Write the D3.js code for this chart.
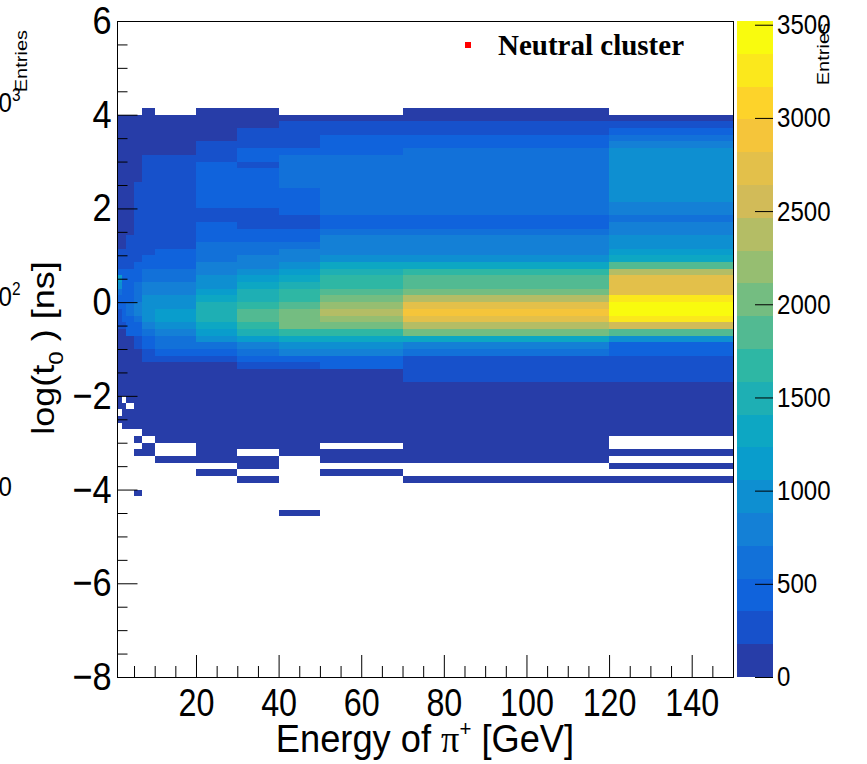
<!DOCTYPE html>
<html>
<head>
<meta charset="utf-8">
<script src="https://cdn.jsdelivr.net/npm/d3@7"></script>
<style>
  body { margin: 0; background: #fff; }
  svg { display: block; }
  text { fill: #000; }
</style>
</head>
<body>
<svg width="867" height="764" font-family="Liberation Sans, Arial, sans-serif"></svg>
<script>
// energy bin edges [GeV]
const energyEdges = [1, 2, 3, 5, 7, 10, 20, 30, 40, 50, 70, 120, 150];
// log(t0) bins are 1/7 wide, rows listed from the top edge downward
const tBinWidth = 1 / 7;
const tTopEdge = 29 / 7;

// entries per bin, one array per energy bin (61 rows each)
const e1to2 = [
  0, 80, 80, 80, 80, 80, 80, 80, 80, 80,
  80, 80, 80, 80, 80, 80, 80, 80, 80, 80,
  80, 260, 260, 260, 440, 1140, 970, 610, 440, 440,
  260, 260, 260, 80, 80, 80, 80, 80, 80, 80,
  80, 80, 80, 80, 80, 0, 80, 0, 0, 0,
  0, 0, 0, 0, 0, 0, 0, 0, 0, 0, 0];
const e2to3 = [
  0, 80, 80, 80, 80, 80, 80, 80, 80, 80,
  80, 80, 80, 80, 80, 80, 80, 80, 80, 80,
  80, 260, 260, 260, 440, 440, 440, 440, 440, 440,
  440, 440, 260, 80, 80, 80, 80, 80, 80, 80,
  80, 80, 80, 0, 80, 80, 80, 80, 0, 0,
  0, 0, 0, 0, 0, 0, 0, 0, 0, 0, 0];
const e3to5 = [
  0, 80, 80, 80, 80, 80, 80, 80, 80, 80,
  80, 80, 80, 80, 80, 80, 80, 80, 80, 260,
  260, 260, 260, 260, 440, 440, 440, 440, 440, 610,
  610, 440, 440, 440, 80, 80, 80, 80, 80, 80,
  80, 80, 80, 80, 0, 80, 80, 80, 0, 0,
  0, 0, 0, 0, 0, 0, 0, 0, 0, 0, 0];
const e5to7 = [
  0, 80, 80, 80, 80, 80, 80, 80, 80, 80,
  80, 260, 260, 260, 260, 260, 260, 260, 260, 260,
  260, 260, 260, 440, 440, 440, 610, 610, 610, 790,
  790, 610, 440, 440, 260, 260, 80, 80, 80, 80,
  80, 80, 80, 80, 80, 80, 80, 80, 0, 80,
  0, 80, 0, 0, 0, 0, 0, 80, 0, 0, 0];
const e7to10 = [
  80, 80, 80, 80, 80, 80, 80, 260, 260, 260,
  260, 260, 260, 260, 260, 260, 260, 260, 260, 260,
  260, 260, 440, 440, 610, 610, 790, 790, 970, 970,
  970, 970, 790, 610, 440, 440, 260, 260, 80, 80,
  80, 80, 80, 80, 80, 80, 80, 80, 80, 0,
  80, 80, 0, 0, 0, 0, 0, 0, 0, 0, 0];
const e10to20 = [
  0, 80, 80, 80, 80, 80, 80, 260, 260, 260,
  260, 260, 260, 260, 260, 260, 260, 260, 260, 260,
  260, 440, 440, 440, 610, 610, 790, 790, 970, 970,
  1140, 1140, 970, 790, 610, 610, 440, 260, 80, 80,
  80, 80, 80, 80, 80, 80, 80, 80, 80, 80,
  0, 0, 80, 0, 0, 0, 0, 0, 0, 0, 0];
const e20to30 = [
  80, 80, 80, 80, 80, 260, 260, 260, 440, 440,
  440, 440, 440, 440, 440, 260, 260, 440, 440, 440,
  610, 610, 610, 790, 790, 970, 970, 1140, 1320, 1500,
  1500, 1500, 1320, 1140, 970, 610, 440, 260, 80, 80,
  80, 80, 80, 80, 80, 80, 80, 80, 80, 80,
  80, 80, 80, 0, 80, 0, 0, 0, 0, 0, 0];
const e30to40 = [
  80, 80, 80, 260, 260, 260, 440, 440, 260, 440,
  440, 440, 440, 440, 440, 260, 260, 260, 440, 440,
  610, 610, 790, 790, 970, 1140, 1320, 1500, 1500, 1670,
  1850, 1850, 1670, 1500, 1140, 790, 610, 440, 260, 80,
  80, 80, 80, 80, 80, 80, 80, 80, 80, 80,
  80, 0, 80, 80, 0, 80, 0, 0, 0, 0, 0];
const e40to50 = [
  0, 80, 260, 260, 260, 260, 440, 610, 610, 610,
  610, 610, 440, 440, 440, 440, 260, 260, 440, 440,
  610, 790, 790, 970, 1140, 1320, 1500, 1670, 1670, 1850,
  2030, 2030, 2030, 1670, 1320, 970, 790, 440, 260, 80,
  80, 80, 80, 80, 80, 80, 80, 80, 80, 80,
  80, 80, 0, 0, 0, 0, 0, 0, 0, 0, 80];
const e50to70 = [
  0, 80, 260, 260, 440, 440, 440, 610, 610, 610,
  610, 610, 610, 610, 610, 610, 440, 440, 610, 790,
  790, 790, 970, 1320, 1500, 1670, 1670, 1850, 2030, 2200,
  2380, 2200, 2030, 1670, 1320, 970, 790, 440, 440, 80,
  80, 80, 80, 80, 80, 80, 80, 80, 80, 80,
  0, 80, 80, 0, 80, 0, 0, 0, 0, 0, 0];
const e70to120 = [
  80, 80, 260, 260, 440, 440, 610, 610, 610, 610,
  610, 610, 610, 610, 610, 610, 440, 440, 610, 790,
  790, 790, 970, 1320, 1670, 1850, 1850, 2030, 2380, 2730,
  2900, 2730, 2380, 2030, 1320, 790, 610, 260, 260, 260,
  260, 80, 80, 80, 80, 80, 80, 80, 80, 80,
  80, 80, 80, 0, 0, 80, 0, 0, 0, 0, 0];
const e120to150 = [
  0, 80, 260, 440, 610, 790, 970, 970, 970, 970,
  970, 970, 970, 970, 790, 790, 610, 790, 790, 970,
  970, 1140, 1320, 1850, 2380, 2730, 2730, 2730, 3260, 3430,
  3430, 3260, 2550, 1850, 970, 440, 440, 260, 260, 260,
  260, 80, 80, 80, 80, 80, 80, 80, 80, 0,
  0, 80, 0, 80, 0, 80, 0, 0, 0, 0, 0];
const columns = [e1to2, e2to3, e3to5, e5to7, e7to10, e10to20, e20to30,
                 e30to40, e40to50, e50to70, e70to120, e120to150];

// axis ticks
const xTickLabels = [20, 40, 60, 80, 100, 120, 140];
const yTickLabels = [-8, -6, -4, -2, 0, 2, 4, 6];
const zTickLabels = [0, 500, 1000, 1500, 2000, 2500, 3000, 3500];
const zMax = 3520;
const nContours = 20;

// ROOT kBird palette
const birdStops = [0.0000, 0.1250, 0.2500, 0.3750, 0.5000, 0.6250, 0.7500, 0.8750, 1.0000];
const birdRed   = [0.2082, 0.0592, 0.0780, 0.0232, 0.1802, 0.5301, 0.8186, 0.9956, 0.9764];
const birdGreen = [0.1664, 0.3599, 0.5041, 0.6419, 0.7178, 0.7492, 0.7328, 0.7862, 0.9832];
const birdBlue  = [0.5293, 0.8684, 0.8385, 0.7914, 0.6425, 0.4662, 0.3499, 0.1968, 0.0539];

var svg = d3.select('svg');
const sans = '"Liberation Sans", Arial, sans-serif';
const serif = '"Liberation Serif", "Times New Roman", serif';
const frame = { left: 117.5, right: 733, top: 21, bottom: 677 };
const bar = { left: 737, right: 773 };

const x = d3.scaleLinear().domain([1, 150]).range([frame.left, frame.right]);
const y = d3.scaleLinear().domain([-8, 6]).range([frame.bottom, frame.top]);
const z = d3.scaleLinear().domain([0, zMax]).range([frame.bottom, frame.top]);

const bird = d3.scaleLinear().domain(birdStops)
  .range(birdStops.map((s, i) => d3.rgb(birdRed[i] * 255, birdGreen[i] * 255, birdBlue[i] * 255).formatHex()));
const levels = d3.range(nContours).map(k => bird(Math.floor((k + 0.99) * 255 / nContours) / 254));
const zColor = d3.scaleQuantize().domain([0, zMax]).range(levels);

// the original raster is a little narrower than it is tall
function squeeze(texts, f) {
  texts.each(function () {
    const t = d3.select(this);
    const tx = +t.attr('x') || 0, ty = +t.attr('y') || 0;
    t.attr('x', null).attr('y', null)
      .attr('transform', `translate(${tx},${ty}) scale(${f},1)`);
  });
}

function drawCells() {
  const cells = [];
  columns.forEach((counts, c) => counts.forEach((n, r) => {
    if (n > 0) cells.push({
      e0: energyEdges[c], e1: energyEdges[c + 1],
      tHi: tTopEdge - r * tBinWidth, tLo: tTopEdge - (r + 1) * tBinWidth, n: n
    });
  }));
  svg.append('g')
    .selectAll('rect')
    .data(cells)
    .join('rect')
      .attr('x', d => x(d.e0))
      .attr('y', d => y(d.tHi))
      .attr('width', d => x(d.e1) - x(d.e0))
      .attr('height', d => y(d.tLo) - y(d.tHi))
      .attr('fill', d => zColor(d.n))
      .attr('shape-rendering', 'crispEdges');
}

function drawAxes() {
  svg.append('rect')
    .attr('x', frame.left).attr('y', frame.top)
    .attr('width', frame.right - frame.left).attr('height', frame.bottom - frame.top)
    .attr('fill', 'none').attr('stroke', '#000').attr('shape-rendering', 'crispEdges');

  const xMinor = d3.range(5, 150, 5).filter(v => v % 20 !== 0);
  const yMinor = d3.range(-7.5, 6, 0.5).filter(v => v % 2 !== 0);

  const gx = svg.append('g').attr('transform', `translate(0,${frame.bottom})`)
    .call(d3.axisBottom(x).tickValues(xTickLabels).tickSize(-22).tickPadding(12).tickFormat(d3.format('d')));
  gx.append('g').call(d3.axisBottom(x).tickValues(xMinor).tickSize(-11).tickFormat(''));
  gx.selectAll('.domain').remove();
  gx.attr('font-size', 38).attr('font-family', sans);
  squeeze(gx.selectAll('text'), 0.85);

  const gy = svg.append('g').attr('transform', `translate(${frame.left},0)`)
    .call(d3.axisLeft(y).tickValues(yTickLabels).tickSize(-20).tickPadding(6).tickFormat(d3.format('d')));
  gy.append('g').call(d3.axisLeft(y).tickValues(yMinor).tickSize(-10).tickFormat(''));
  gy.selectAll('.domain').remove();
  gy.attr('font-size', 39).attr('font-family', sans);
  squeeze(gy.selectAll('text'), 0.88);

  // x title
  const xt = svg.append('text')
    .attr('transform', `translate(425,752) scale(0.93,1)`)
    .attr('text-anchor', 'middle').attr('font-size', 39);
  xt.append('tspan').text('Energy of ');
  xt.append('tspan').attr('font-family', serif).text('π');
  xt.append('tspan').attr('font-size', 22).attr('dy', -16).text('+');
  xt.append('tspan').attr('dy', 16).text(' [GeV]');

  // y title
  const yt = svg.append('text')
    .attr('transform', `translate(54,348) scale(0.88,1) rotate(-90)`)
    .attr('text-anchor', 'middle').attr('font-size', 36);
  yt.append('tspan').text('log(t');
  yt.append('tspan').attr('font-size', 24).attr('dy', 10).text('0');
  yt.append('tspan').attr('dy', -10).text(' ) [ns]');
}

function drawPalette() {
  const bands = d3.range(nContours).map(k => ({ lo: k * zMax / nContours, hi: (k + 1) * zMax / nContours, c: levels[k] }));
  svg.append('g')
    .selectAll('rect')
    .data(bands)
    .join('rect')
      .attr('x', bar.left)
      .attr('y', d => z(d.hi))
      .attr('width', bar.right - bar.left)
      .attr('height', d => z(d.lo) - z(d.hi))
      .attr('fill', d => d.c)
      .attr('shape-rendering', 'crispEdges');

  const gz = svg.append('g').attr('transform', `translate(${bar.right},0)`)
    .call(d3.axisRight(z).tickValues(zTickLabels).tickSize(-18).tickPadding(4).tickFormat(d3.format('d')));
  gz.select('.domain').remove();
  gz.attr('font-size', 28).attr('font-family', sans);
  gz.selectAll('text').attr('text-anchor', 'start');
  squeeze(gz.selectAll('text'), 0.86);

  svg.append('text')
    .attr('transform', `translate(829,23) scale(0.87,1) rotate(-90)`)
    .attr('text-anchor', 'end').attr('font-size', 20).text('Entries');
}

function drawLegend() {
  svg.append('rect')
    .attr('x', 465).attr('y', 42).attr('width', 6).attr('height', 6)
    .attr('fill', '#ff0000');
  svg.append('text')
    .attr('x', 498).attr('y', 55)
    .attr('font-family', serif)
    .attr('font-weight', 'bold').attr('font-size', 29)
    .text('Neutral cluster');
}

// labels of the neighbouring pad's log palette, cut by the left edge
function drawNeighbour() {
  const g = svg.append('g').attr('font-size', 28);
  [[112, '3'], [306, '2'], [496, '']].forEach(([base, sup]) => {
    g.append('text')
      .attr('transform', `translate(12,${base}) scale(0.86,1)`)
      .attr('text-anchor', 'end').text('10');
    if (sup) g.append('text')
      .attr('transform', `translate(12,${base - 11}) scale(0.86,1)`)
      .attr('font-size', 18).text(sup);
  });
  svg.append('text')
    .attr('transform', `translate(27,30) scale(0.87,1) rotate(-90)`)
    .attr('text-anchor', 'end').attr('font-size', 20).text('Entries');
}

drawCells();
drawAxes();
drawPalette();
drawLegend();
drawNeighbour();
</script>
</body>
</html>
